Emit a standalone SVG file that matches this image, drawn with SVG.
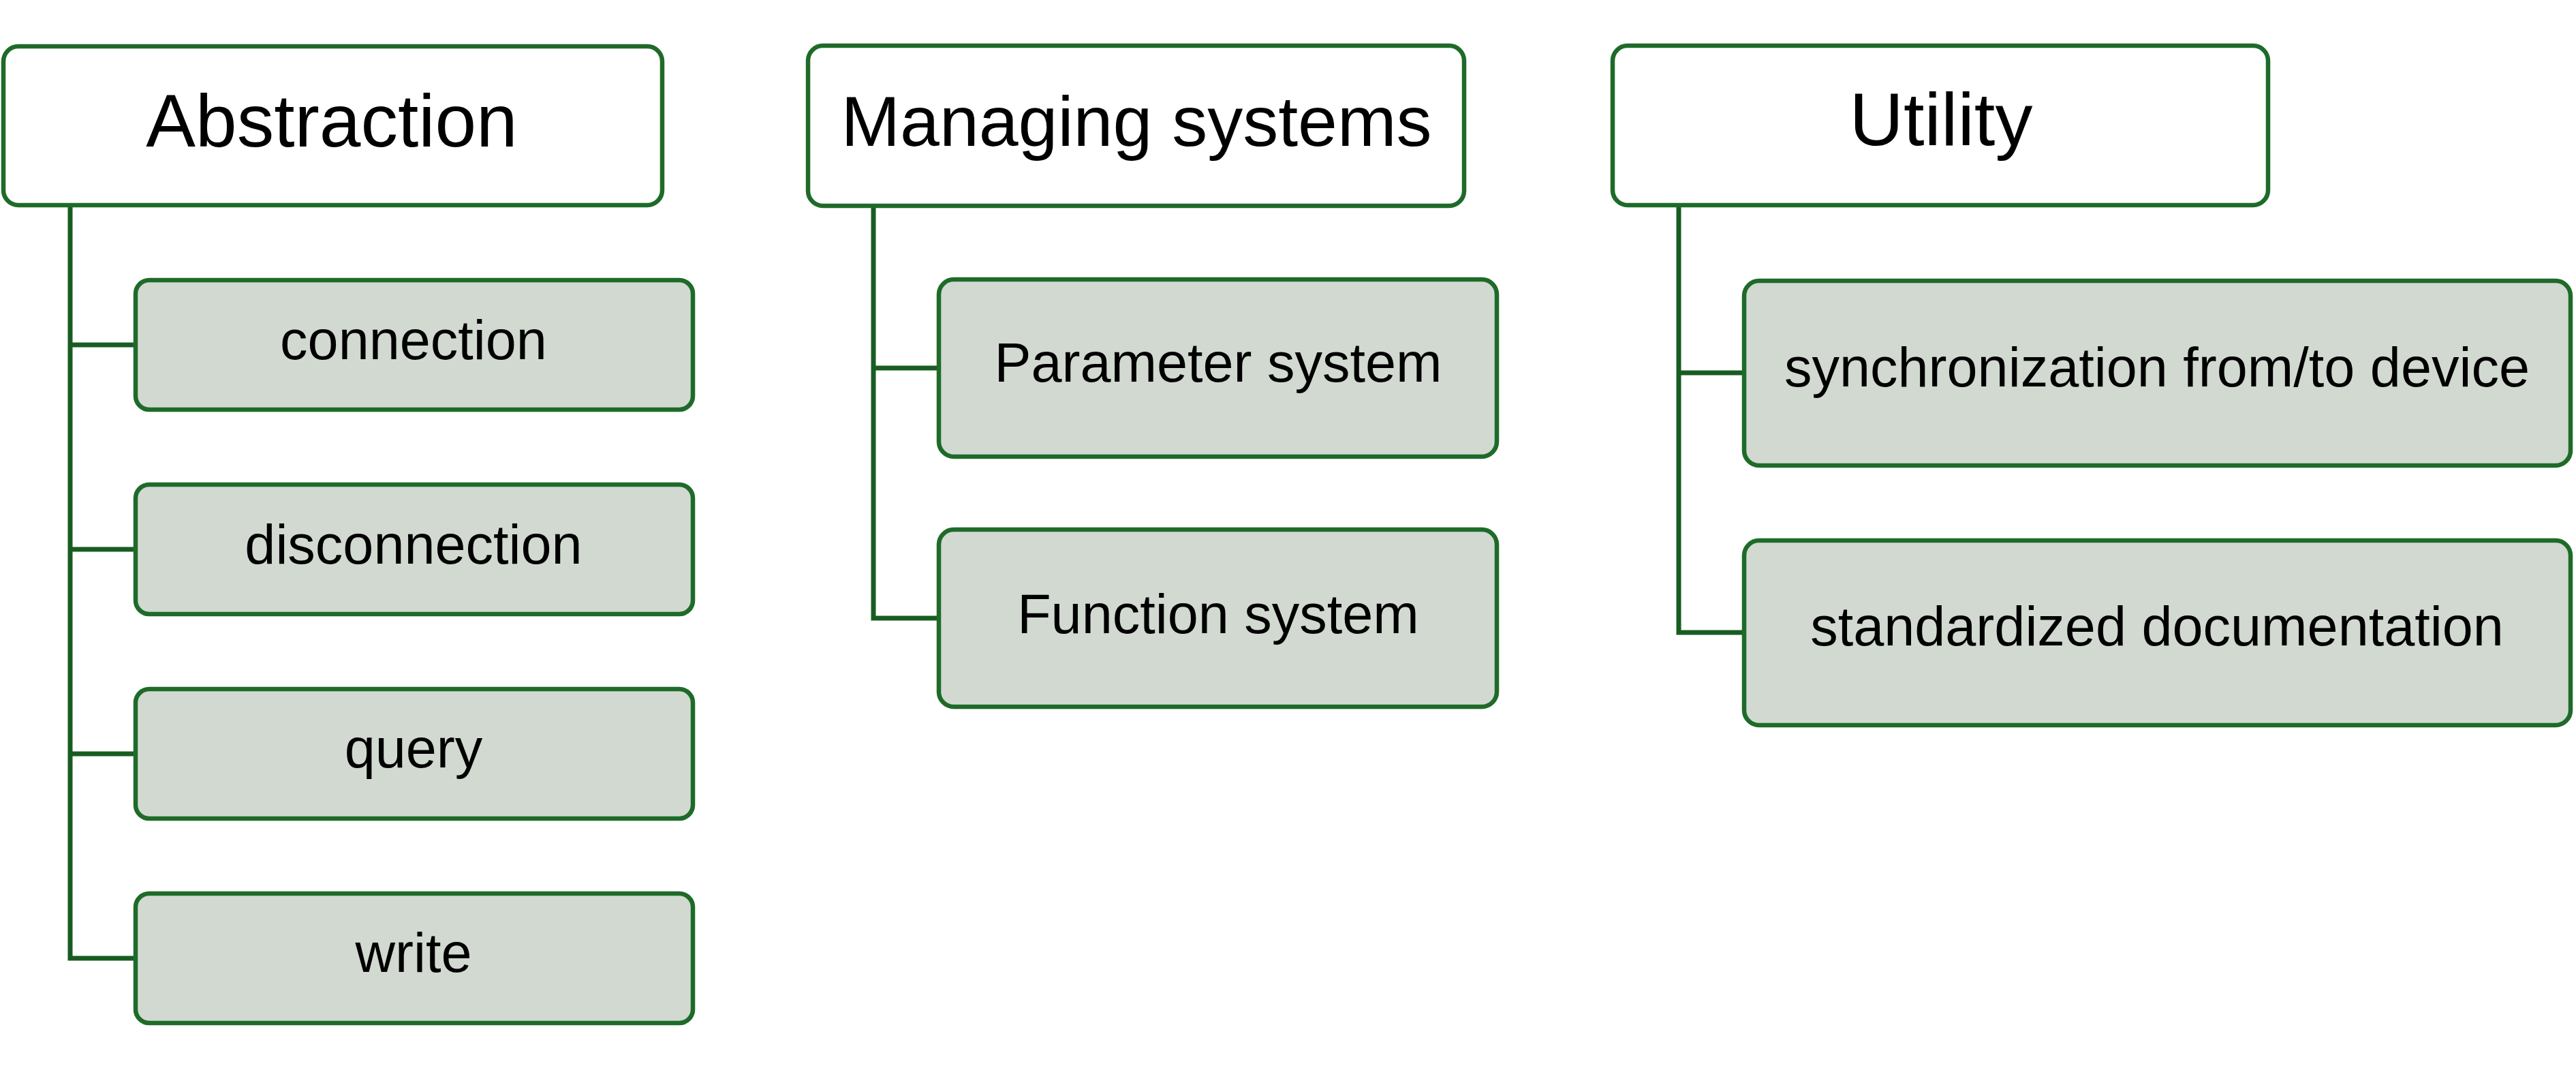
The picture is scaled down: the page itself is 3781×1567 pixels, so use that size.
<svg xmlns="http://www.w3.org/2000/svg" width="3781" height="1567" viewBox="0 0 3781 1567">
<style>
.head rect{fill:#FFFFFF;stroke:#1E6B29;stroke-width:6.5}
.item rect{fill:#D1D9D1;stroke:#1E6B29;stroke-width:6.5}
.head text{font-family:"Liberation Sans",Arial,sans-serif;font-size:106px;fill:#000;text-anchor:middle}
.item text{font-family:"Liberation Sans",Arial,sans-serif;font-size:81px;fill:#000;text-anchor:middle}
#connectors path{fill:none;stroke:#185C22;stroke-width:7;stroke-linejoin:miter}
</style>
<rect x="0" y="0" width="3781" height="1567" fill="#FFFFFF"/>
<g id="connectors">
<path d="M103,301 V1406 H199"/>
<path d="M103,506 H199"/>
<path d="M103,806 H199"/>
<path d="M103,1106 H199"/>
<path d="M1282,302 V907 H1378"/>
<path d="M1282,540 H1378"/>
<path d="M2464,301 V928 H2560"/>
<path d="M2464,547 H2560"/>
</g>
<g id="abstraction" class="head"><rect x="5" y="68" width="967" height="233" rx="22"/><text x="487" y="215" style="font-size:109px">Abstraction</text></g>
<g id="connection" class="item"><rect x="199" y="411" width="818" height="190" rx="20"/><text x="607" y="527">connection</text></g>
<g id="disconnection" class="item"><rect x="199" y="711" width="818" height="190" rx="20"/><text x="607" y="827">disconnection</text></g>
<g id="query" class="item"><rect x="199" y="1011" width="818" height="190" rx="20"/><text x="607" y="1126">query</text></g>
<g id="write" class="item"><rect x="199" y="1311" width="818" height="190" rx="20"/><text x="607" y="1426">write</text></g>
<g id="managing" class="head"><rect x="1186" y="67" width="963" height="235" rx="22"/><text x="1668" y="214" style="font-size:104px">Managing systems</text></g>
<g id="parameter" class="item"><rect x="1378" y="410" width="819" height="260" rx="22"/><text x="1788" y="560">Parameter system</text></g>
<g id="function" class="item"><rect x="1378" y="777" width="819" height="260" rx="22"/><text x="1788" y="929">Function system</text></g>
<g id="utility" class="head"><rect x="2367" y="67" width="962" height="234" rx="22"/><text x="2849" y="213" style="font-size:110px">Utility</text></g>
<g id="sync" class="item"><rect x="2560" y="412" width="1213" height="271" rx="22"/><text x="3166" y="567">synchronization from/to device</text></g>
<g id="stddoc" class="item"><rect x="2560" y="793" width="1213" height="271" rx="22"/><text x="3166" y="947">standardized documentation</text></g>
</svg>
